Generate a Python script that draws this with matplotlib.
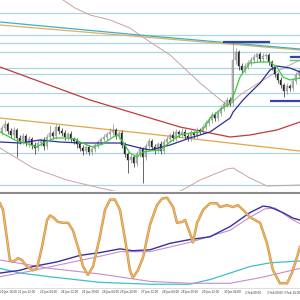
import matplotlib
matplotlib.use("Agg")
import matplotlib.pyplot as plt
import matplotlib.patheffects as pe
import numpy as np

# ---------------- data ----------------
opens = [68, 72, 76, 69, 65, 70, 62, 59, 64, 57,
         61, 55, 52, 57, 60, 54, 63, 67, 64, 73,
         69, 67, 63, 66, 61, 59, 56, 52, 49, 53,
         48, 51, 55, 58, 61, 63, 66, 68, 70, 64,
         67, 55, 46, 40, 43, 37, 46, 51, 43, 54,
         59, 53, 50, 56, 49, 58, 61, 65, 62, 68,
         66, 68, 64, 62, 67, 65, 70, 69, 73, 77,
         80, 85, 82, 87, 92, 96, 100, 97, 140, 148,
         134, 130, 134, 137, 140, 143, 146, 141, 144, 145,
         138, 133, 126, 120, 115, 109, 114, 112, 119, 125]
closes = [72, 76, 69, 65, 70, 62, 59, 64, 57, 61,
          55, 52, 57, 60, 54, 63, 67, 64, 73, 69,
          67, 63, 66, 61, 59, 56, 52, 49, 53, 48,
          51, 55, 58, 61, 63, 66, 68, 70, 64, 67,
          55, 46, 40, 43, 37, 46, 51, 43, 54, 59,
          53, 50, 56, 49, 58, 61, 65, 62, 68, 66,
          68, 64, 62, 67, 65, 70, 69, 73, 77, 80,
          85, 82, 87, 92, 96, 100, 97, 140, 148, 134,
          130, 134, 137, 140, 143, 146, 141, 144, 145, 138,
          133, 126, 120, 115, 109, 114, 112, 119, 125, 129]
highs = [75, 80, 78, 72, 73, 72, 65, 67, 66, 64,
         63, 58, 60, 62, 63, 66, 75, 69, 76, 75,
         72, 70, 68, 69, 63, 62, 58, 55, 56, 55,
         54, 57, 60, 63, 66, 68, 72, 76, 72, 69,
         70, 58, 48, 46, 45, 49, 54, 53, 57, 62,
         61, 56, 58, 59, 61, 64, 67, 69, 71, 70,
         72, 71, 67, 70, 69, 73, 72, 76, 80, 83,
         88, 88, 90, 95, 99, 103, 103, 157, 152, 150,
         137, 137, 140, 143, 146, 147, 148, 147, 147, 147,
         140, 135, 128, 123, 117, 117, 116, 122, 128, 131]
lows = [65, 69, 66, 62, 61, 43, 56, 56, 54, 53,
        51, 46, 49, 54, 50, 51, 60, 61, 61, 66,
        64, 60, 60, 58, 56, 52, 49, 45, 46, 45,
        45, 48, 52, 55, 58, 60, 63, 65, 61, 61,
        52, 43, 27, 37, 33, 34, 43, 17, 40, 51,
        50, 46, 47, 46, 46, 55, 58, 59, 59, 63,
        63, 61, 59, 59, 62, 62, 66, 66, 70, 74,
        77, 79, 79, 84, 89, 93, 94, 94, 136, 130,
        127, 127, 131, 134, 137, 138, 138, 138, 141, 135,
        130, 123, 117, 112, 103, 106, 109, 109, 116, 122]

green_x = [-0.5, 4.5, 7.8, 11.8, 14.5, 17.8, 21.8, 24.5, 26.2, 28.5, 30.5, 33.8, 37.2, 38.8,
           40.5, 42.8, 45.2, 47.2, 49.5, 52.8, 56.2, 59.5, 62.8, 66.2, 67.8, 69.5, 72.8, 76.2,
           77.8, 79.5, 82.8, 86.2, 89.5, 91.8, 93.8, 96.2, 99.5]
green_y = [68, 60, 57, 53, 58, 62, 62, 61, 58, 55, 53, 56, 63, 65,
           58, 47, 43, 48, 49, 50, 58, 65, 67, 68, 73, 82, 90, 97,
           108, 123, 137, 138, 138, 133, 123, 120, 122]

navy_x = [-0.5, 6.2, 12.8, 19.5, 26.2, 32.8, 39.5, 46.2, 49.5, 56.2, 62.8, 69.5, 76.2, 77.2,
          80.5, 82.8, 86.2, 89.5, 91.8, 96.2, 99.5]
navy_y = [58, 57, 60, 58, 57, 57, 57, 52, 50, 55, 62, 68, 82, 88,
          100, 107, 117, 130, 134, 132, 128]

red_x = [-0.5, 29.5, 49.5, 59.5, 69.5, 76.2, 82.8, 91.8, 99.5]
red_y = [133, 100, 82, 73, 67, 63, 65, 70, 78]

trend_x = [-0.5, 49.5, 99.5]
teal_trend = [178, 164, 151]
orange_trend_hi = [175, 162.5, 150]
orange_trend_lo = [82, 66, 49]

brown_up_x = [14.5, 19.5, 24.5, 29.5, 36.2, 42.8, 48.5, 56.2, 66.2, 75.5, 79.5, 86.2, 92.8, 99.5]
brown_up_y = [215, 202, 192, 185, 180, 172, 160, 145, 117, 94, 105, 118, 130, 140]
brown_lo_x = [-0.5, 10.5, 21.8, 32.8, 40.5, 49.5, 58.5, 66.2, 75.2, 77.2, 82.8, 88.5, 99.5]
brown_lo_y = [52, 32, 20, 12, 7, 4, 7, 20, 31, 32, 22, 14, 15]

level_lines = [187, 165, 157, 148, 132, 126, 107, 94, 47, 15]

seg_blue = [(73.8, 89.5, 158), (96.2, 99.5, 143), (89.5, 99.5, 99)]
seg_green = [(96.2, 99.5, 140)]

osc_x = [-0.5, 0.5, 2.8, 3.8, 5.5, 6.8, 8.5, 10.5, 11.8, 13.5, 15.2, 16.2, 17.2, 18.8, 20.5,
         22.2, 23.8, 25.5, 27.2, 28.8, 30.5, 32.8, 34.5, 36.2, 37.8, 39.5, 41.2, 42.8, 43.8,
         45.5, 47.2, 49.5, 51.8, 53.5, 55.2, 57.2, 58.5, 60.2, 61.2, 62.8, 63.8, 65.2, 67.2,
         69.5, 71.8, 72.8, 75.2, 77.2, 78.8, 80.5, 82.8, 86.2, 88.5, 90.5, 92.8, 95.2, 96.8,
         98.5, 99.5]
osc_v = [90, 83, 29, 27, 31, 29, 22, 18, 20, 43, 72, 77, 75, 70, 69,
         69, 61, 43, 22, 13, 22, 54, 83, 94, 94, 83, 51, 18, 10,
         18, 32, 67, 88, 95, 96, 86, 69, 70, 72, 58, 48, 69, 83,
         90, 90, 86, 88, 86, 88, 83, 75, 69, 47, 18, 4, 4, 15,
         32, 43]

onavy_x = [-0.5, 6.2, 10.5, 18.5, 26.2, 32.8, 39.5, 43.8, 49.5, 56.2, 62.8, 69.5, 76.2, 82.8,
           87.2, 89.5, 93.8, 97.2, 99.5]
onavy_v = [15, 18, 22, 27, 34, 37, 41, 39, 40, 47, 51, 54, 65, 80, 87, 86, 80, 74, 72]
oplum_x = [-0.5, 9.5, 19.5, 32.8, 39.5, 49.5, 62.8, 76.2, 82.8, 87.8, 91.2, 96.2, 99.5]
oplum_v = [11, 17, 24, 33, 38, 38, 48, 61, 75, 84, 85, 74, 68]
oviolet_x = [-0.5, 16.2, 32.8, 49.5, 62.8, 76.2, 86.2, 99.5]
oviolet_v = [29, 20, 14, 6, 4, 4, 10, 20]
ocyan_x = [-0.5, 6.2, 16.2, 32.8, 49.5, 62.8, 69.5, 76.2, 82.8, 89.5, 99.5]
ocyan_v = [20, 15, 11, 5, 3, 3, 8, 15, 22, 26, 28]

tick_bars = [2.3, 8.5, 15.8, 22.8, 29.5, 36.2, 42.2, 49.2, 56.2, 62.8, 69.5, 76.8, 83.8, 91.2, 96.8]
tick_labels = ["20 Jan 16:00", "21 Jan 12:00", "22 Jan 04:00", "24 Jan 12:00", "25 Jan 20:00",
               "26 Jan 04:00", "26 Jan 20:00", "27 Jan 12:00", "28 Jan 04:00", "28 Jan 20:00",
               "29 Jan 12:00", "30 Jan 04:00", "2 Feb 08:00", "3 Feb 00:00", "3 Feb 16:00"]

# ---------------- figure ----------------
W = H = 300
fig = plt.figure(figsize=(3, 3), dpi=100)
fig.patch.set_facecolor("white")

def fbox(y_top, y_bot):
    return [0, 1 - y_bot / H, 1, (y_bot - y_top) / H]

ax = fig.add_axes(fbox(0, 191))
ax.set_xlim(-0.5, 99.5)
ax.set_ylim(9, 200)
ax.axis("off")

for lv in level_lines:
    ax.axhline(lv, color="#a9d6e0", lw=0.9, zorder=1)

ax.plot(brown_up_x, brown_up_y, color="#caa3a3", lw=0.7, zorder=2)
ax.plot(brown_lo_x, brown_lo_y, color="#caa3a3", lw=0.7, zorder=2)
ax.plot(trend_x, orange_trend_hi, color="#e2b060", lw=0.9, zorder=2)
ax.plot(trend_x, teal_trend, color="#3fb0bc", lw=0.9, zorder=2)
ax.plot(trend_x, orange_trend_lo, color="#e2a64a", lw=0.9, zorder=2)
ax.plot(red_x, red_y, color="#c23a3a", lw=0.9, zorder=2)

x = np.arange(len(closes))
o = np.array(opens); c = np.array(closes)
hi = np.array(highs); lo = np.array(lows)
bull = c >= o
ax.vlines(x[bull], lo[bull], hi[bull], color="#8a8a8a", lw=0.5, zorder=3)
ax.vlines(x[~bull], lo[~bull], hi[~bull], color="#2a2a2a", lw=0.5, zorder=3)
body_lo = np.minimum(o, c)
body_h = np.maximum(np.abs(c - o), 0.6)
ax.bar(x[bull], body_h[bull], bottom=body_lo[bull], width=0.62,
       color="#d4d4d4", edgecolor="#7a7a7a", linewidth=0.3, zorder=4)
ax.bar(x[~bull], body_h[~bull], bottom=body_lo[~bull], width=0.62,
       color="#222222", edgecolor="#222222", linewidth=0.3, zorder=4)

ax.plot(navy_x, navy_y, color="#2b2f9a", lw=0.9, zorder=5)
ax.plot(green_x, green_y, color="#3ccc3c", lw=0.9, zorder=5)

for x0, x1, yv in seg_blue:
    ax.plot([x0, x1], [yv, yv], color="#3444a8", lw=1.6, zorder=6, solid_capstyle="butt")
for x0, x1, yv in seg_green:
    ax.plot([x0, x1], [yv, yv], color="#5ccc5c", lw=1.0, zorder=6)

# separator
fig.add_artist(plt.Line2D([0, 1], [1 - 192.5 / H, 1 - 192.5 / H], color="#8c8c8c", lw=1.5))

# oscillator panel
ax2 = fig.add_axes(fbox(194, 287))
ax2.set_xlim(-0.5, 99.5)
ax2.set_ylim(0, 100)
ax2.axis("off")
ax2.plot(ocyan_x, ocyan_v, color="#3cc0cc", lw=0.9, clip_on=False)
ax2.plot(oviolet_x, oviolet_v, color="#c88ad0", lw=0.8, clip_on=False)
ax2.plot(oplum_x, oplum_v, color="#c58fc8", lw=0.8, clip_on=False)
ax2.plot(onavy_x, onavy_v, color="#3a2fa0", lw=1.0, clip_on=False)
ax2.plot(osc_x, osc_v, color="#f4bd6a", lw=0.7, clip_on=False,
         path_effects=[pe.Stroke(linewidth=1.8, foreground="#cf9447"), pe.Normal()])

fig.add_artist(plt.Line2D([0, 1], [1 - 288 / H, 1 - 288 / H], color="#d0d0d0", lw=0.5))
for tb, tl in zip(tick_bars, tick_labels):
    xf = (tb + 0.5) / 100.0
    fig.text(xf, 1 - 292.5 / H, tl, fontsize=2.0, color="#333333",
             ha="center", va="center", family="DejaVu Sans")

fig.savefig("out.png", dpi=100, facecolor="white")
